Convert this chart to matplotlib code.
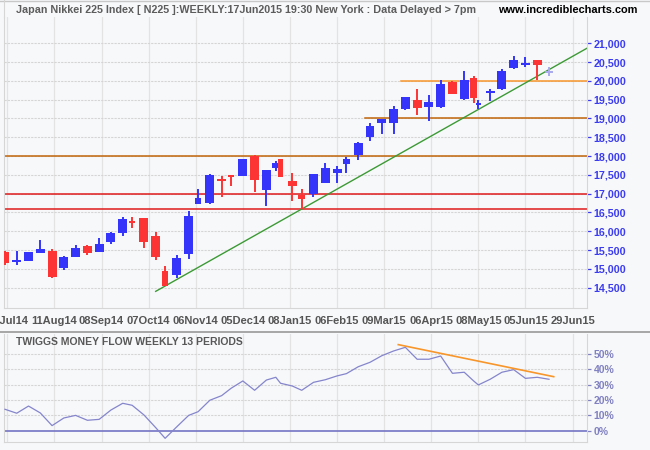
import matplotlib

matplotlib.use("Agg")

import matplotlib.pyplot as plt
import numpy as np
from matplotlib.lines import Line2D

# weekly candles, week ending Fri 11 Jul 2014 .. partial week 17 Jun 2015
trade_days = [5, 5, 5, 5, 5, 5, 5, 5, 5, 5, 5, 4, 5, 5, 4, 5, 5, 4, 5, 5,
              4, 5, 5, 5, 4, 2, 5, 4, 5, 5, 5, 4, 5, 5, 5, 5, 5, 5, 5, 5,
              5, 5, 4, 2, 5, 5, 5, 5, 5, 5]
opens = [15458, 15200, 15218, 15431, 15475, 15023, 15316, 15599, 15458, 15715,
         15954, 16273, 16353, 15874, 14943, 14846, 15395, 16734, 16752, 17385,
         17480, 17479, 18002, 17098, 17692, 17923, 17337, 16965, 16992, 17284,
         17559, 17790, 18029, 18508, 18880, 18880, 19253, 19492, 19306, 19306,
         19980, 19519, 20077, 19370, 19669, 19785, 20352, 20450, 20556, 20230]
highs = [15484, 15484, 15455, 15768, 15529, 15342, 15635, 15635, 15821, 15990,
         16380, 16380, 16353, 15990, 15076, 15369, 16539, 17124, 17523, 17479,
         17488, 17930, 18020, 17630, 17878, 17923, 17541, 17116, 17523, 17816,
         17736, 17985, 18384, 18871, 18995, 19332, 19572, 19785, 19625, 20024,
         19990, 20263, 20130, 19483, 19776, 20308, 20662, 20636, 20556, 20379]
lows = [15103, 15103, 15210, 15431, 14757, 14979, 15316, 15369, 15458, 15670,
        15883, 16087, 15564, 15245, 14544, 14757, 15262, 16734, 16734, 16921,
        17213, 17470, 17045, 16681, 17594, 17452, 16805, 16592, 16921, 17284,
        17284, 17550, 17905, 18392, 18588, 18588, 19226, 19102, 18933, 19279,
        19650, 19492, 19412, 19244, 19465, 19758, 20325, 20379, 20024, 20139]
closes = [15156, 15215, 15449, 15528, 14784, 15307, 15546, 15431, 15661, 15954,
          16327, 16229, 15724, 15324, 14544, 15280, 16406, 16876, 17497, 17357,
          17460, 17923, 17373, 17630, 17825, 17452, 17204, 16867, 17523, 17683,
          17656, 17914, 18348, 18791, 18995, 19253, 19572, 19288, 19439, 19918,
          19660, 20024, 19545, 19380, 19731, 20263, 20556, 20461, 20432, 20237]
money_flow = [14.0, 11.4, 16.1, 11.6, 3.3, 8.3, 10.0, 6.8, 7.4, 13.5,
              17.9, 16.6, 10.3, 2.0, -5.0, 2.6, 10.0, 12.4, 19.9, 22.9,
              27.7, 32.5, 26.4, 33.1, 34.9, 31.0, 29.2, 26.4, 31.6, 33.3,
              35.8, 37.3, 41.8, 44.7, 49.0, 52.1, 54.5, 46.7, 46.7, 48.8,
              37.5, 38.2, 32.5, 29.9, 33.6, 38.2, 39.9, 34.2, 34.9, 33.6]

date_labels = ["14Jul14", "11Aug14", "08Sep14", "07Oct14", "06Nov14", "05Dec14", "08Jan15",
               "06Feb15", "09Mar15", "06Apr15", "08May15", "05Jun15", "29Jun15"]
price_ticks = [14500, 15000, 15500, 16000, 16500, 17000, 17500, 18000, 18500,
               19000, 19500, 20000, 20500, 21000]
mf_ticks = [0, 10, 20, 30, 40, 50]

# support / resistance levels (price, first week drawn, colour)
levels = [20000, 19000, 18000, 17000, 16590]
level_from = [36, 33, None, None, None]
level_colors = ["#f7962b", "#c2650a", "#c2650a", "#e01b1b", "#e01b1b"]
# trend lines anchored on weekly lows / money-flow peaks
price_trend_weeks = [14, 27]
mf_trend_weeks = [36, 46]

BG = "#f7f8fa"
W, H = 650, 450

x = np.cumsum(trade_days) - trade_days[0]
opens, highs, lows, closes = map(np.array, (opens, highs, lows, closes))
grid_x = [1 + 20 * k for k in range(len(date_labels))]
xlim = (-0.28, 247.0)


def px_axes(left, top, right, bottom):
    return fig.add_axes([left / W, 1 - bottom / H, (right - left) / W, (bottom - top) / H])


def style_axes(ax):
    ax.set_facecolor(BG)
    ax.spines["top"].set_visible(False)
    for side in ("left", "right", "bottom"):
        ax.spines[side].set_color("#d6d6d6")
        ax.spines[side].set_linewidth(0.8)
    ax.set_xlim(*xlim)
    for gx in grid_x:
        ax.axvline(gx, color="#e3e3e3", lw=0.9, zorder=0)
    ax.yaxis.tick_right()


fig = plt.figure(figsize=(6.5, 4.5), dpi=100)
fig.patch.set_facecolor(BG)

# ---- price panel ----
ax = px_axes(4.3, 17, 586.7, 307.7)
style_axes(ax)
ax.set_ylim(13968, 21699)
for p in price_ticks:
    ax.axhline(p, color="#d5d5d5", lw=0.8, ls=(0, (2, 1)), zorder=0)

for lvl, start, col in zip(levels, level_from, level_colors):
    x0 = xlim[0] if start is None else x[start] - 2
    ax.plot([x0, xlim[1]], [lvl, lvl], color=col, lw=1.1, zorder=1)

w0, w1 = price_trend_weeks
slope = (lows[w1] - lows[w0]) / (x[w1] - x[w0])
tx = np.array([x[13], xlim[1]])
ax.plot(tx, lows[w0] + slope * (tx - x[w0]), color="#3c9a35", lw=1.0, zorder=2)

widths = np.clip(np.array(trade_days) - 1, 2, 4) * 0.95
for i in range(len(x)):
    last = i == len(x) - 1
    col = "#3434fb" if closes[i] >= opens[i] else "#fd3434"
    if last:
        col = "#a9a9ee"
    ax.vlines(x[i], lows[i], highs[i], color=col, lw=1.4, zorder=3)
    lo = min(opens[i], closes[i])
    h = abs(closes[i] - opens[i])
    if h < 50:
        lo = (opens[i] + closes[i]) / 2 - 25
        h = 50
    ax.bar(x[i], h, bottom=lo, width=widths[i], color=col, lw=0, zorder=4)

ax.set_yticks(price_ticks)
ax.set_yticklabels([f"{p:,}" for p in price_ticks], fontsize=7.7, fontweight="bold",
                   color="#3b3bef", family="Liberation Sans")
ax.tick_params(axis="y", length=3, width=0.9, color="#3b3bef", pad=2)
ax.set_xticks(grid_x)
ax.set_xticklabels(date_labels, fontsize=8.0, fontweight="bold", color="#555555",
                   family="Liberation Sans")
ax.tick_params(axis="x", length=0, pad=6)

# ---- money flow panel ----
ax2 = px_axes(4.3, 334, 586.7, 442.3)
style_axes(ax2)
ax2.set_ylim(-7.6, 63.2)
for m in mf_ticks[1:]:
    ax2.axhline(m, color="#d5d5d5", lw=0.8, ls=(0, (2, 1)), zorder=0)
ax2.axhline(0, color="#7474c4", lw=1.2, zorder=1)
ax2.plot(x, money_flow, color="#8585cc", lw=0.9, zorder=3)

m0, m1 = mf_trend_weeks
mslope = (money_flow[m1] - money_flow[m0]) / (x[m1] - x[m0])
mx = np.array([x[m0] - 3, x[-1] + 2])
ax2.plot(mx, money_flow[m0] + 0.8 + mslope * (mx - x[m0]), color="#f7962b", lw=1.2, zorder=4)

ax2.set_yticks(mf_ticks)
ax2.set_yticklabels([f"{m}%" for m in mf_ticks], fontsize=7.5, fontweight="bold",
                    color="#8181c2", family="Liberation Sans")
ax2.tick_params(axis="y", length=3, width=0.9, color="#8181c2", pad=2)
ax2.set_xticks(grid_x)
ax2.set_xticklabels([])
ax2.tick_params(axis="x", length=0)
ax2.text(0.02, 0.93, "TWIGGS MONEY FLOW WEEKLY 13 PERIODS", transform=ax2.transAxes,
         fontsize=7.5, fontweight="bold", color="#585858", family="Liberation Sans",
         va="center", ha="left")

# ---- frame lines and header ----
fig.add_artist(Line2D([0, 1], [1 - 332 / H] * 2, color="#a0a0a0", lw=1.3))
fig.add_artist(Line2D([0, 1], [1 - 0.8 / H] * 2, color="#c8c8c8", lw=1.0))
fig.add_artist(Line2D([4.3 / W] * 2, [1 - 17 / H, 1], color="#d6d6d6", lw=0.8))
fig.text(16 / W, 1 - 10 / H,
         "Japan Nikkei 225 Index [ N225 ]:WEEKLY:17Jun2015 19:30 New York : Data Delayed > 7pm",
         fontsize=7.75, fontweight="bold", color="#5c5c5c", family="Liberation Sans",
         va="center", ha="left")
fig.text(637 / W, 1 - 10 / H, "www.incrediblecharts.com", fontsize=7.9, fontweight="bold",
         color="#000000", family="Liberation Sans", va="center", ha="right")

fig.savefig("out.png", dpi=100, facecolor=BG)
